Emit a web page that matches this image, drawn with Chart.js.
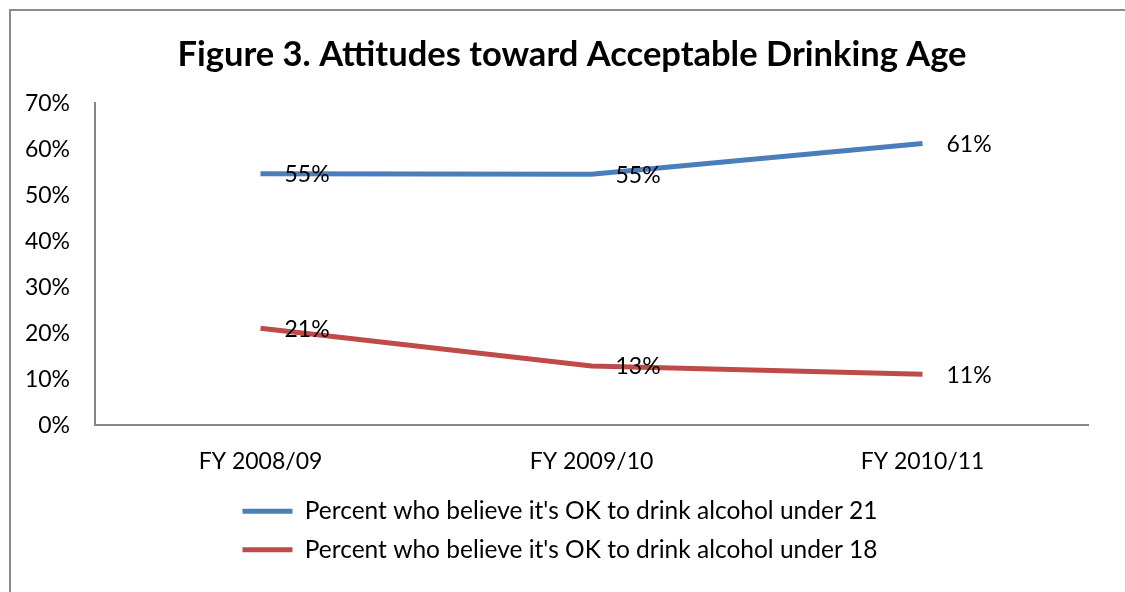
<!DOCTYPE html>
<html>
<head>
<meta charset="utf-8">
<script src="https://cdn.jsdelivr.net/npm/chart.js@4.4.1/dist/chart.umd.min.js"></script>
<style>
    html, body { margin: 0; padding: 0; background: #fff; overflow: hidden; }
    #frame {
        position: absolute; left: 9px; top: 9px; width: 1300px; height: 800px;
        border: 2px solid #8c8c8c; box-sizing: border-box;
    }
    #wrap { position: absolute; left: 0; top: 0; width: 1125px; height: 592px; }
</style>
</head>
<body>
<div id="frame"></div>
<div id="wrap"><canvas id="drinkChart"></canvas></div>
<script>
const years = ['FY 2008/09', 'FY 2009/10', 'FY 2010/11'];
const under21 = [54.7, 54.6, 61.3];
const under18 = [21.1, 12.9, 11.1];
const seriesNames = [
    "Percent who believe it's OK to drink alcohol under 21",
    "Percent who believe it's OK to drink alcohol under 18"
];
const yTicks = [0, 10, 20, 30, 40, 50, 60, 70];

const FONT = 'Lato, "Open Sans", sans-serif';

// labels drawn to the right of each point, like the original
const pointLabels = {
    id: 'pointLabels',
    afterDatasetsDraw(chart) {
        const ctx = chart.ctx;
        ctx.save();
        ctx.font = '23px ' + FONT;
        ctx.fillStyle = '#000';
        ctx.textAlign = 'left';
        ctx.textBaseline = 'middle';
        chart.data.datasets.forEach((ds, i) => {
            chart.getDatasetMeta(i).data.forEach((pt, j) => {
                ctx.fillText(Math.round(ds.data[j]) + '%', pt.x + 24, pt.y + 1);
            });
        });
        ctx.restore();
    }
};

// small offsets for title / legend boxes so they sit where the original has them
function shiftBox(box, dx, dy, shrink) {
    if (!box) return;
    if (shrink && typeof box.fit === 'function') {
        const fit = box.fit.bind(box);
        box.fit = function () { fit(); this.height -= shrink; };
    }
    const draw = box.draw.bind(box);
    box.draw = function (area) {
        this.ctx.save();
        this.ctx.translate(dx, dy);
        draw(area);
        this.ctx.restore();
    };
}
const nudge = {
    id: 'nudge',
    afterInit(chart) {
        shiftBox(chart.titleBlock, 18, 0, 0);
        shiftBox(chart.legend, 6, -12, 8);
    }
};

const ctx = document.getElementById('drinkChart').getContext('2d');
new Chart(ctx, {
    type: 'line',
    data: {
        labels: years,
        datasets: [
            {
                label: seriesNames[0],
                data: under21,
                borderColor: '#4A7EBB',
                backgroundColor: '#4A7EBB',
                borderWidth: 5,
                pointRadius: 0,
                tension: 0
            },
            {
                label: seriesNames[1],
                data: under18,
                borderColor: '#BE4B48',
                backgroundColor: '#BE4B48',
                borderWidth: 5,
                pointRadius: 0,
                tension: 0
            }
        ]
    },
    options: {
        responsive: true,
        maintainAspectRatio: false,
        animation: false,
        layout: { padding: { left: 20, right: 37, top: 20, bottom: 16 } },
        plugins: {
            title: {
                display: true,
                text: 'Figure 3. Attitudes toward Acceptable Drinking Age',
                color: '#000',
                font: { family: FONT, size: 34.5, weight: 'bold' },
                padding: { top: 14, bottom: 28 }
            },
            legend: {
                position: 'bottom',
                labels: {
                    color: '#000',
                    font: { family: FONT, size: 24.5 },
                    boxWidth: 50,
                    boxHeight: 5,
                    padding: 14,
                    generateLabels(chart) {
                        return chart.data.datasets.map((ds, i) => ({
                            text: ds.label,
                            fillStyle: ds.borderColor,
                            strokeStyle: ds.borderColor,
                            lineWidth: 0,
                            datasetIndex: i
                        }));
                    }
                }
            },
            tooltip: { enabled: false }
        },
        scales: {
            x: {
                offset: true,
                grid: { display: false, drawTicks: false },
                border: { color: '#868686', width: 2 },
                ticks: {
                    color: '#000',
                    font: { family: FONT, size: 23 },
                    padding: 22
                }
            },
            y: {
                min: yTicks[0],
                max: yTicks[yTicks.length - 1],
                grid: { display: false, drawTicks: false },
                border: { color: '#868686', width: 2 },
                afterBuildTicks(scale) {
                    scale.ticks = yTicks.map(v => ({ value: v }));
                },
                afterFit(scale) { scale.width = 75; },
                ticks: {
                    color: '#000',
                    font: { family: FONT, size: 23 },
                    padding: 25,
                    callback: v => v + '%'
                }
            }
        }
    },
    plugins: [pointLabels, nudge]
});
</script>
</body>
</html>
